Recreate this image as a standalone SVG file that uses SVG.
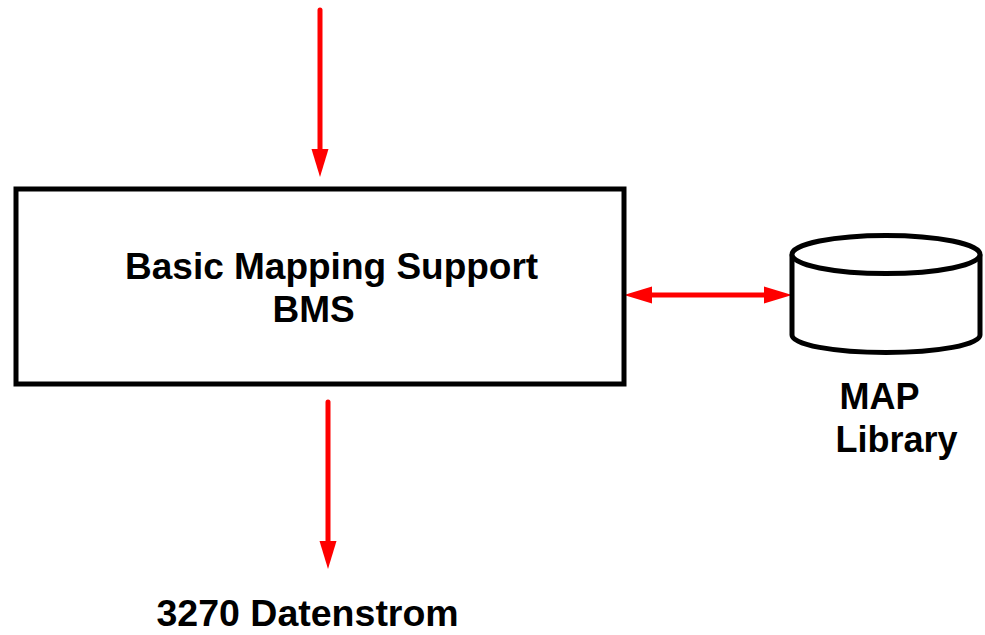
<svg xmlns="http://www.w3.org/2000/svg" width="985" height="635" viewBox="0 0 985 635">
<defs>
<style>
.lbl{font-family:"Liberation Sans",Arial,sans-serif;font-weight:bold;fill:#000}
.shape{fill:#fff;stroke:#000;stroke-width:5}
.conn{stroke:#f00;stroke-width:5;fill:none;stroke-linecap:round}
</style>
<marker id="ah" markerUnits="userSpaceOnUse" markerWidth="30" markerHeight="18" refX="0" refY="8.5" orient="auto-start-reverse" viewBox="0 0 30 17">
<path d="M0,0 L28,8.5 L0,17 z" fill="#f00"/>
</marker>
</defs>
<rect width="985" height="635" fill="#fff"/>
<g id="connectors">
<line class="conn" x1="320" y1="10" x2="320" y2="149" marker-end="url(#ah)"/>
<line class="conn" x1="328" y1="402" x2="328" y2="541" marker-end="url(#ah)"/>
<line class="conn" x1="652" y1="295" x2="764" y2="295" marker-start="url(#ah)" marker-end="url(#ah)" style="stroke-linecap:butt"/>
</g>
<g id="bms">
<rect class="shape" x="16" y="189" width="608" height="195"/>
<text class="lbl" x="125" y="279" font-size="37">Basic Mapping Support</text>
<text class="lbl" x="272.5" y="322" font-size="37">BMS</text>
</g>
<g id="maplib">
<path class="shape" d="M792,254.5 L792,335 A94,17.5 0 0 0 980,335 L980,254.5"/>
<ellipse class="shape" cx="886" cy="254.5" rx="94" ry="19"/>
<text class="lbl" x="839.5" y="409" font-size="36">MAP</text>
<text class="lbl" x="835.5" y="452" font-size="36">Library</text>
</g>
<g id="datenstrom">
<text class="lbl" x="156.5" y="626" font-size="37.5">3270 Datenstrom</text>
</g>
</svg>
